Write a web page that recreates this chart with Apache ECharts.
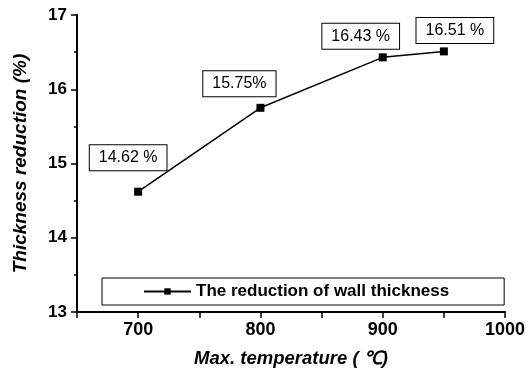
<!DOCTYPE html>
<html><head><meta charset="utf-8">
<script src="https://cdn.jsdelivr.net/npm/echarts@6/dist/echarts.min.js"></script>
<style>html,body{margin:0;padding:0;background:#fff}#c{width:529px;height:378px}</style>
</head><body><div id="c"></div>
<script>
var temperatures = [700, 800, 900, 950];
var reductions = [14.62, 15.75, 16.43, 16.51];
var pointLabels = ['14.62 %', '15.75%', '16.43 %', '16.51 %'];
var seriesName = 'The reduction of wall thickness';
var labelOffsets = [[-10, -34], [-21, -24], [-22, -21], [11, -21]];

var FONT = '"Liberation Sans", Arial, sans-serif';
var chart = echarts.init(document.getElementById('c'));
var data = temperatures.map(function (t, i) {
  return {
    value: [t, reductions[i]],
    label: {
      show: true, position: 'inside', offset: labelOffsets[i],
      formatter: pointLabels[i], color: '#000', fontSize: 16, fontFamily: FONT,
      backgroundColor: '#fff', borderColor: '#000', borderWidth: 1,
      padding: [5, 9, 4, 9]
    }
  };
});
chart.setOption({
  animation: false,
  backgroundColor: '#fff',
  grid: { left: 77, right: 24, top: 15, bottom: 66, outerBoundsMode: 'none', containLabel: false },
  legend: {
    data: [seriesName],
    left: 102, top: 278,
    padding: [5, 55, 5, 41],
    borderColor: '#000', borderWidth: 1,
    itemWidth: 47, itemHeight: 8, itemGap: 5,
    textStyle: { fontSize: 17, fontWeight: 'bold', color: '#000', fontFamily: FONT }
  },
  xAxis: {
    type: 'value', min: 650, max: 1000, interval: 50,
    name: 'Max. temperature ( \u2103)', nameLocation: 'middle', nameGap: 37,
    nameTextStyle: { fontSize: 18.5, fontWeight: 'bold', fontStyle: 'italic', color: '#000', fontFamily: FONT },
    axisLine: { show: true, lineStyle: { color: '#000', width: 2 } },
    axisTick: { show: true, length: 6, lineStyle: { color: '#000', width: 1.5 } },
    axisLabel: { fontSize: 18, fontWeight: 'bold', color: '#000', fontFamily: FONT, margin: 9,
      formatter: function (v) { return (v % 100 === 0) ? String(v) : ''; } },
    splitLine: { show: false }
  },
  yAxis: {
    type: 'value', min: 13, max: 17, interval: 1,
    name: 'Thickness reduction (%)', nameLocation: 'middle', nameGap: 47,
    nameTextStyle: { fontSize: 19, fontWeight: 'bold', fontStyle: 'italic', color: '#000', fontFamily: FONT },
    axisLine: { show: true, lineStyle: { color: '#000', width: 2 } },
    axisTick: { show: true, length: 6, lineStyle: { color: '#000', width: 1.5 } },
    minorTick: { show: true, splitNumber: 2, length: 3, lineStyle: { color: '#000', width: 1.5 } },
    axisLabel: { fontSize: 17, fontWeight: 'bold', color: '#000', fontFamily: FONT, margin: 10 },
    splitLine: { show: false }
  },
  series: [{
    name: seriesName, type: 'line', data: data,
    symbol: 'rect', symbolSize: 8,
    lineStyle: { color: '#000', width: 1.5 },
    itemStyle: { color: '#000' },
    z: 3
  }]
});
</script></body></html>
